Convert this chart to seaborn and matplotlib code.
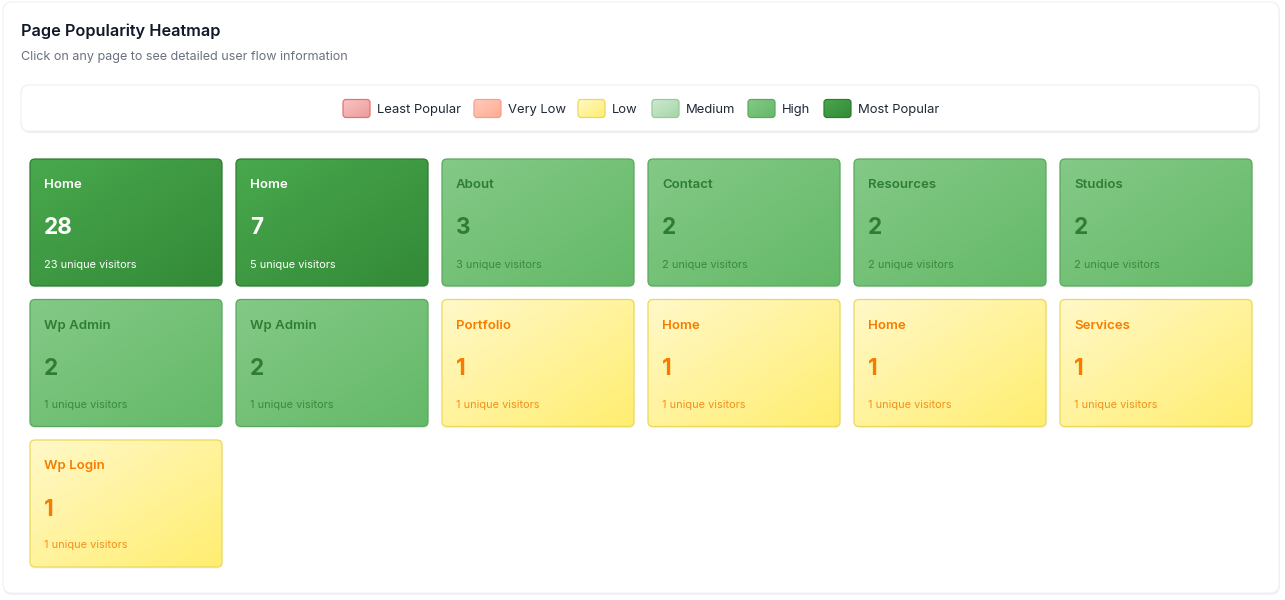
"""Page popularity heatmap: grid of cards coloured by popularity tier."""

import matplotlib
import matplotlib.pyplot as plt
import numpy as np
import seaborn as sns
from matplotlib.patches import FancyBboxPatch

matplotlib.use("Agg")

# ---------------------------------------------------------------------------
# Data
# ---------------------------------------------------------------------------
pages = ["Home", "Home", "About", "Contact", "Resources", "Studios",
         "Wp Admin", "Wp Admin", "Portfolio", "Home", "Home", "Services",
         "Wp Login"]
views = [28, 7, 3, 2, 2, 2, 2, 2, 1, 1, 1, 1, 1]
visitors = [23, 5, 3, 2, 2, 2, 1, 1, 1, 1, 1, 1, 1]
levels = ["Most Popular", "Most Popular", "High", "High", "High", "High",
          "High", "High", "Low", "Low", "Low", "Low", "Low"]

legend_labels = ["Least Popular", "Very Low", "Low", "Medium", "High", "Most Popular"]

# tier -> (gradient start, gradient end, border, title/value text, small text)
TIER_STYLE = {
    "Least Popular": ("#f8c6c6", "#ef9a9a", "#e57373", "#b71c1c", "#c62828"),
    "Very Low": ("#ffccbc", "#ffab91", "#f4a08a", "#bf360c", "#d84315"),
    "Low": ("#fff8c8", "#ffee70", "#ecd95a", "#f57c00", "#f58f1c"),
    "Medium": ("#cfe9d0", "#a5d6a7", "#98c99a", "#2e7d32", "#388e3c"),
    "High": ("#84c987", "#64b968", "#5aa95e", "#2e7d32", "#3a8a3e"),
    "Most Popular": ("#49a84d", "#338a37", "#2e7d32", "#ffffff", "#ffffff"),
}

sns.set_theme(style="white")
plt.rcParams["font.family"] = ["Inter", "DejaVu Sans"]

W, H = 1285, 600
fig = plt.figure(figsize=(W / 100, H / 100), dpi=100)
fig.patch.set_facecolor("#ffffff")
ax = fig.add_axes([0, 0, 1, 1])
ax.set_xlim(0, W)
ax.set_ylim(H, 0)
ax.axis("off")

PX = 0.72  # points per pixel at 100 dpi


def rounded(x, y, w, h, r, **kw):
    patch = FancyBboxPatch((x + r, y + r), w - 2 * r, h - 2 * r,
                           boxstyle=f"round,pad={r}", **kw)
    ax.add_patch(patch)
    return patch


def gradient_box(x, y, w, h, r, c0, c1, edge, z=2):
    cmap = sns.blend_palette([c0, c1], as_cmap=True)
    gx, gy = np.meshgrid(np.linspace(0, 1, 64), np.linspace(0, 1, 64))
    grad = (gx + gy) / 2
    im = ax.imshow(grad, cmap=cmap, extent=(x, x + w, y + h, y), origin="upper",
                   aspect="auto", zorder=z, interpolation="bilinear")
    clip = rounded(x, y, w, h, r, facecolor="none", edgecolor=edge,
                   linewidth=0.9, zorder=z + 0.1)
    im.set_clip_path(clip)
    ax.set_xlim(0, W)
    ax.set_ylim(H, 0)


# outer panel with faint shadow
rounded(3, 3, 1277, 592, 9, facecolor="#f0f1f3", edgecolor="none", zorder=0)
rounded(3, 2, 1276, 591, 9, facecolor="#ffffff", edgecolor="#f0f1f3",
        linewidth=0.8, zorder=0.1)

ax.text(21, 31, "Page Popularity Heatmap", fontsize=16.3 * PX,
        fontweight="semibold", color="#111827", va="center", ha="left")
ax.text(21, 57, "Click on any page to see detailed user flow information",
        fontsize=12.6 * PX, color="#6b7280", va="center", ha="left")

# legend panel
rounded(22, 87, 1238, 46, 8, facecolor="#eceef1", edgecolor="none",
        linewidth=0, zorder=0.5)
rounded(21, 85, 1238, 46, 8, facecolor="#ffffff", edgecolor="#f0f1f3",
        linewidth=0.9, zorder=0.6)

swatch_x = [343, 474, 578, 652, 748, 824]
for sx, lab in zip(swatch_x, legend_labels):
    c0, c1, edge, _, _ = TIER_STYLE[lab]
    gradient_box(sx, 99.5, 27, 18, 3, c0, c1, edge, z=1)
    ax.text(sx + 34, 110, lab, fontsize=13 * PX, color="#1f2937",
            va="center", ha="left")

# cards
COLS = 6
CARD_W, CARD_H = 192, 127
X0, Y0 = 30, 159
DX, DY = 206, 140.5
for i, (page, v, u, lev) in enumerate(zip(pages, views, visitors, levels)):
    col, row = i % COLS, i // COLS
    x, y = X0 + col * DX, Y0 + row * DY
    c0, c1, edge, tcol, scol = TIER_STYLE[lev]
    # soft shadow
    rounded(x + 0.5, y + 1.5, CARD_W, CARD_H, 5, facecolor="#000000",
            alpha=0.05, edgecolor="none", zorder=1.5)
    gradient_box(x, y, CARD_W, CARD_H, 5, c0, c1, edge, z=2)
    ax.text(x + 14, y + 26.5, page, fontsize=13.2 * PX, fontweight="semibold",
            color=tcol, va="center", ha="left", zorder=3)
    ax.text(x + 14, y + 69.5, str(v), fontsize=22.5 * PX, fontweight="bold",
            color=tcol, va="center", ha="left", zorder=3)
    ax.text(x + 14, y + 105.5, f"{u} unique visitors", fontsize=11 * PX,
            color=scol, va="center", ha="left", zorder=3)

fig.savefig("out.png", dpi=100, facecolor=fig.get_facecolor())
